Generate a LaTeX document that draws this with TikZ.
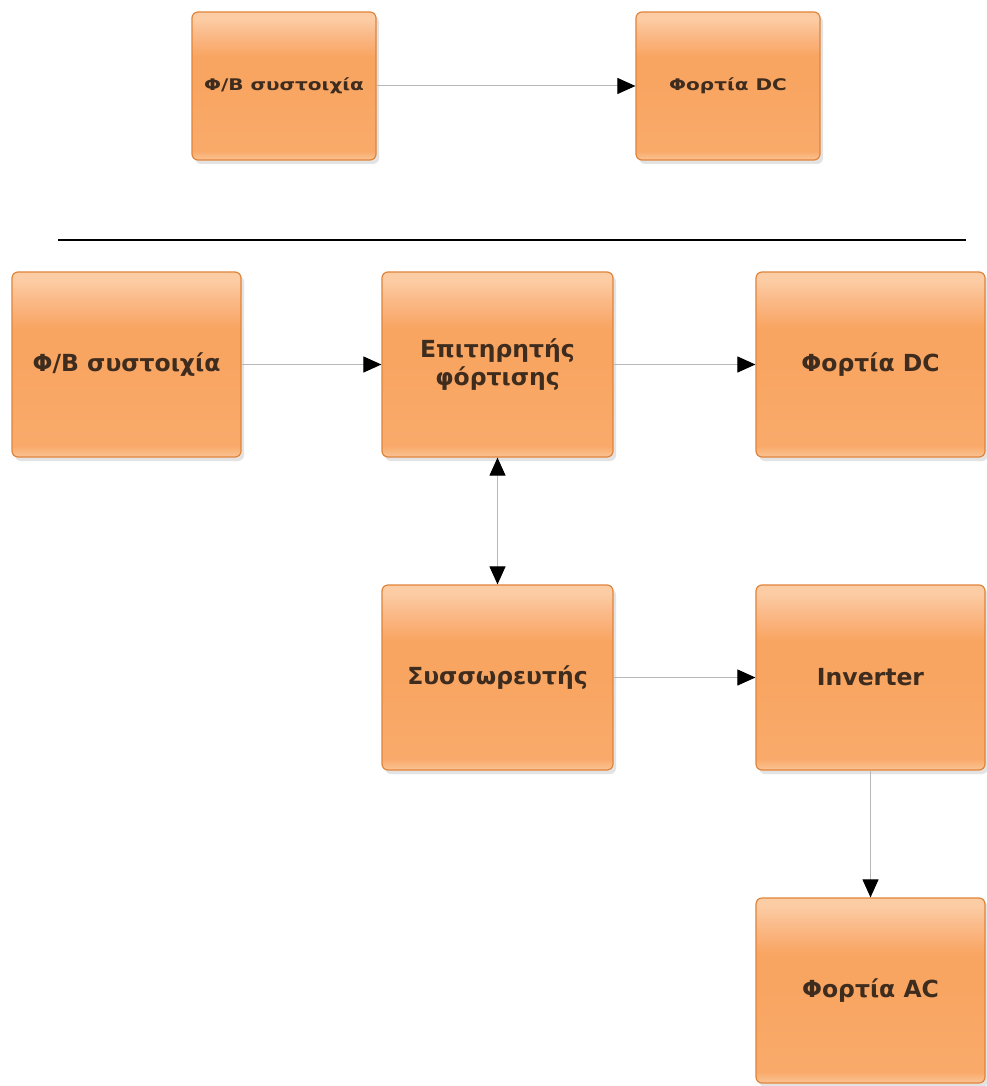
\documentclass[tikz,border=0pt]{standalone}
\usepackage{fontspec}
\setmainfont{DejaVu Sans}
\newfontfamily\widefont{DejaVu Sans}[FakeStretch=1.25]
\usetikzlibrary{arrows.meta,shadows}
\definecolor{boxborder}{HTML}{E0843A}
\definecolor{boxhi}{HTML}{FCCDA5}
\definecolor{boxtop}{HTML}{FAB886}
\definecolor{boxmid}{HTML}{F9A562}
\definecolor{boxlow}{HTML}{F9AA6A}
\definecolor{boxbot}{HTML}{FBC394}
\definecolor{textc}{HTML}{3E2C1E}
\definecolor{linec}{HTML}{B8B8B8}
\pgfdeclareverticalshading{boxshade}{100bp}{
  color(0bp)=(boxbot); color(25bp)=(boxbot); color(28bp)=(boxlow);
  color(50bp)=(boxmid); color(60bp)=(boxmid); color(67bp)=(boxtop);
  color(73bp)=(boxhi); color(100bp)=(boxhi)}
\tikzset{
  box/.style={draw=boxborder, line width=1.2pt, rounded corners=6pt,
    shading=boxshade,
    drop shadow={opacity=0.22, shadow xshift=3pt, shadow yshift=-4pt},
    text=textc, align=center, inner sep=2pt},
  smallbox/.style={box, minimum width=184pt, minimum height=148pt, font=\widefont\bfseries\fontsize{16}{19}\selectfont},
  bigbox/.style={box, minimum width=229pt, minimum height=185pt, font=\bfseries\fontsize{23.5}{28}\selectfont},
  conn/.style={draw=linec, line width=1pt, -{Triangle[length=18pt,width=16pt,color=black]}},
  conn2/.style={draw=linec, line width=1pt, {Triangle[length=18pt,width=16pt,color=black]}-{Triangle[length=18pt,width=16pt,color=black]}}
}
\begin{document}
\begin{tikzpicture}[x=1pt,y=-1pt]
\useasboundingbox (0,0) rectangle (986,1086);
\fill[white] (0,0) rectangle (986,1086);
\node[smallbox] (pv1) at (284,86) {Φ/B συστοιχία};
\node[smallbox] (dc1) at (728,86) {Φορτία DC};
\draw[conn] (pv1) -- (dc1);
\coordinate (l1) at (58,240);
\coordinate (l2) at (966,240);
\draw[line width=1.2pt, black] (l1) -- (l2);
\node[bigbox] (pv2) at (126.5,364.5) {Φ/B συστοιχία};
\node[bigbox, minimum width=231pt] (cc) at (497.5,364.5) {Επιτηρητής\\φόρτισης};
\node[bigbox] (dc2) at (870.5,364.5) {Φορτία DC};
\node[bigbox, minimum width=231pt] (bat) at (497.5,677.5) {Συσσωρευτής};
\node[bigbox] (inv) at (870.5,677.5) {Inverter};
\node[bigbox] (ac) at (870.5,990.5) {Φορτία AC};
\draw[conn] (pv2) -- (cc);
\draw[conn] (cc) -- (dc2);
\draw[conn2] (cc) -- (bat);
\draw[conn] (bat) -- (inv);
\draw[conn] (inv) -- (ac);
\end{tikzpicture}
\end{document}
